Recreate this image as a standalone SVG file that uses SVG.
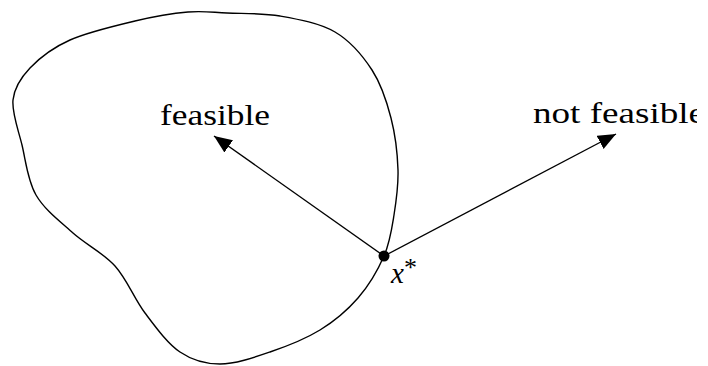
<svg xmlns="http://www.w3.org/2000/svg" width="708" height="366" viewBox="0 0 708 366">
<style>
.ln{fill:none;stroke:#000;stroke-width:1.4}
.lbl{font-family:"Liberation Serif","Times New Roman",serif;font-size:29px;fill:#000}
</style>
<defs>
<marker id="ah" markerUnits="userSpaceOnUse" markerWidth="20" markerHeight="16" refX="18" refY="7.5" orient="auto">
<path d="M0,0 L18,7.5 L0,15 Z" fill="#000"/>
</marker>
<clipPath id="clipR"><rect x="0" y="0" width="697" height="366"/></clipPath>
</defs>
<rect width="708" height="366" fill="#fff"/>
<g id="region">
<path class="ln" d="M 384 256 C 390 242.2, 391.7 229.3, 394 215 C 396.3 200.7, 398.5 186.2, 398 170 C 397.5 153.8, 395.3 134.7, 391 118 C 386.7 101.3, 381.3 84.3, 372 70 C 362.7 55.7, 350.3 41, 335 32 C 319.7 23, 298 19.2, 280 16 C 262 12.8, 242.3 13.7, 227 13 C 211.7 12.3, 203.3 10.7, 188 12 C 172.7 13.3, 154.7 16.3, 135 21 C 115.3 25.7, 87.5 32.2, 70 40 C 52.5 47.8, 39.5 58, 30 68 C 20.5 78, 14.3 87.2, 13 100 C 11.7 112.8, 18.2 129.2, 22 145 C 25.8 160.8, 27.5 180.3, 36 195 C 44.5 209.7, 59.8 221.2, 73 233 C 86.2 244.8, 103 252.7, 115 266 C 127 279.3, 134.2 298.7, 145 313 C 155.8 327.3, 167.5 343.5, 180 352 C 192.5 360.5, 205 364, 220 364 C 235 364, 253.3 357.7, 270 352 C 286.7 346.3, 305.3 339, 320 330 C 334.7 321, 347.3 310.3, 358 298 C 368.7 285.7, 378 269.8, 384 256 Z"/>
</g>
<g id="connectors">
<line class="ln" x1="384" y1="256" x2="214" y2="136" marker-end="url(#ah)"/>
<line class="ln" x1="384" y1="256" x2="616" y2="134" marker-end="url(#ah)"/>
</g>
<g id="xstar">
<circle cx="384" cy="256" r="5.5" fill="#000"/>
<text class="lbl" x="391" y="283" font-size="33" font-style="italic">x<tspan font-style="normal" font-size="26" dy="-7">*</tspan></text>
</g>
<g id="feasible">
<text class="lbl" x="160" y="125" textLength="110" lengthAdjust="spacingAndGlyphs">feasible</text>
</g>
<g id="notfeasible" clip-path="url(#clipR)">
<text class="lbl" x="533" y="123" textLength="172" lengthAdjust="spacingAndGlyphs">not feasible</text>
</g>
</svg>
